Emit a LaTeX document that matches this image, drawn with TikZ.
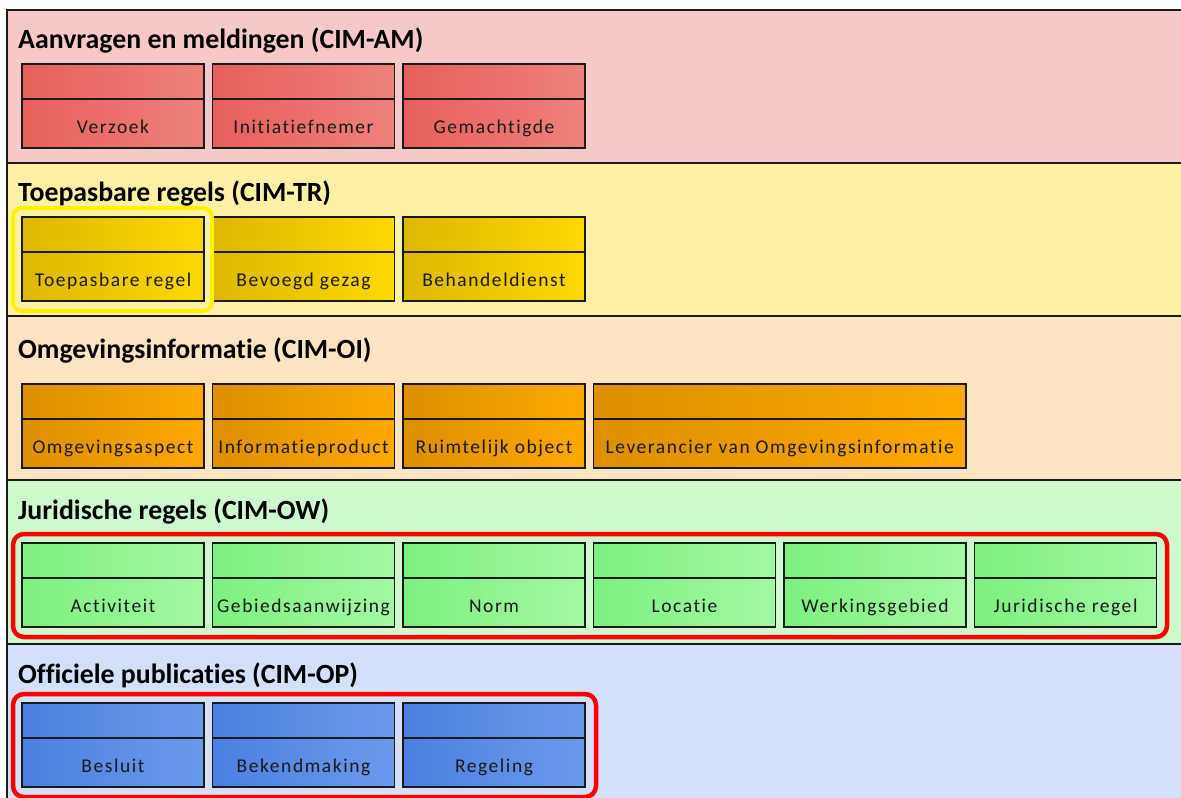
\documentclass[tikz,border=0pt]{standalone}
\usepackage{fontspec}
\setmainfont{Carlito}[Ligatures=NoCommon]
\newfontfamily\lblfont[LetterSpace=8,Ligatures=NoCommon]{Carlito}
\definecolor{bandR}{HTML}{F7C8C8}
\definecolor{bandY}{HTML}{FEF0A2}
\definecolor{bandO}{HTML}{FDE4C0}
\definecolor{bandG}{HTML}{CCFACC}
\definecolor{bandB}{HTML}{D2E0F8}
\definecolor{rA}{HTML}{E6605A}\definecolor{rB}{HTML}{EE827A}
\definecolor{yA}{HTML}{DDB800}\definecolor{yB}{HTML}{FFD900}
\definecolor{oA}{HTML}{DC9000}\definecolor{oB}{HTML}{FFA800}
\definecolor{gA}{HTML}{7EF07E}\definecolor{gB}{HTML}{A2F8A2}
\definecolor{bA}{HTML}{4A80E2}\definecolor{bB}{HTML}{6C9AEA}
\definecolor{edge}{HTML}{1A1A1A}
\tikzset{
  band/.style={draw=edge, line width=1.3pt},
  ubox/.style={draw=edge, line width=1.1pt, minimum height=84pt, inner sep=0pt, outer sep=0pt, anchor=north west},
  boxR/.style={left color=rA, right color=rB},
  boxY/.style={left color=yA, right color=yB},
  boxO/.style={left color=oA, right color=oB},
  boxG/.style={left color=gA, right color=gB},
  boxB/.style={left color=bA, right color=bB},
  lbl/.style={font=\lblfont\fontsize{19.5}{22}\selectfont, text=edge, anchor=base, inner sep=0pt},
  ttl/.style={font=\bfseries\fontsize{27.8}{32}\selectfont, anchor=base west, inner sep=0pt},
  hlY/.style={draw=yellow, line width=4pt, rounded corners=9pt},
  hlR/.style={draw=red, line width=4.5pt, rounded corners=11pt},
}
\newcommand\ubox[6]{%
  \node[ubox,#6,minimum width=#4pt] (#1) at (#2,#3) {};
  \draw[draw=edge, line width=1.1pt] ([yshift=-35pt]#1.north west) -- ([yshift=-35pt]#1.north east);
  \node[lbl] (#1-l) at ([yshift=-69pt]#1.north) {#5};
}
\begin{document}
\begin{tikzpicture}[x=1pt,y=-1pt]
\useasboundingbox (0,0) rectangle (1181,798);
% bands
\path[band, fill=bandR] (7,10) rectangle (1195,163);
\path[band, fill=bandY] (7,163) rectangle (1195,316);
\path[band, fill=bandO] (7,316) rectangle (1195,480);
\path[band, fill=bandG] (7,480) rectangle (1195,644);
\path[band, fill=bandB] (7,644) rectangle (1195,810);
% titles
\node[ttl] (tAM) at (18,48) {Aanvragen en meldingen (CIM-AM)};
\node[ttl] (tTR) at (18,201) {Toepasbare regels (CIM-TR)};
\node[ttl] (tOI) at (18,358) {Omgevingsinformatie (CIM-OI)};
\node[ttl] (tOW) at (18,519) {Juridische regels (CIM-OW)};
\node[ttl] (tOP) at (18,683) {Officiele publicaties (CIM-OP)};
% AM
\ubox{verzoek}{22}{64}{182}{Verzoek}{boxR}
\ubox{initiatief}{212.5}{64}{182}{Initiatiefnemer}{boxR}
\ubox{gemacht}{403}{64}{182}{Gemachtigde}{boxR}
% TR
\ubox{toepregel}{22}{217}{182}{Toepasbare regel}{boxY}
\ubox{bevoegd}{212.5}{217}{182}{Bevoegd gezag}{boxY}
\ubox{behandel}{403}{217}{182}{Behandeldienst}{boxY}
% OI
\ubox{omgasp}{22}{384}{182}{Omgevingsaspect}{boxO}
\ubox{infoprod}{212.5}{384}{182}{Informatieproduct}{boxO}
\ubox{ruimobj}{403}{384}{182}{Ruimtelijk object}{boxO}
\ubox{leverancier}{593.5}{384}{372.5}{Leverancier van Omgevingsinformatie}{boxO}
% OW
\ubox{activiteit}{22}{543}{182}{Activiteit}{boxG}
\ubox{gebied}{212.5}{543}{182}{Gebiedsaanwijzing}{boxG}
\ubox{norm}{403}{543}{182}{Norm}{boxG}
\ubox{locatie}{593.5}{543}{182}{Locatie}{boxG}
\ubox{werking}{784}{543}{182}{Werkingsgebied}{boxG}
\ubox{jurregel}{974.5}{543}{182}{Juridische regel}{boxG}
% OP
\ubox{besluit}{22}{703}{182}{Besluit}{boxB}
\ubox{bekend}{212.5}{703}{182}{Bekendmaking}{boxB}
\ubox{regeling}{403}{703}{182}{Regeling}{boxB}
% highlights
\draw[hlY] (13,208) rectangle (212,311);
\draw[hlR] (13,534) rectangle (1167,637);
\draw[hlR] (13,694) rectangle (596,797);
\end{tikzpicture}
\end{document}
